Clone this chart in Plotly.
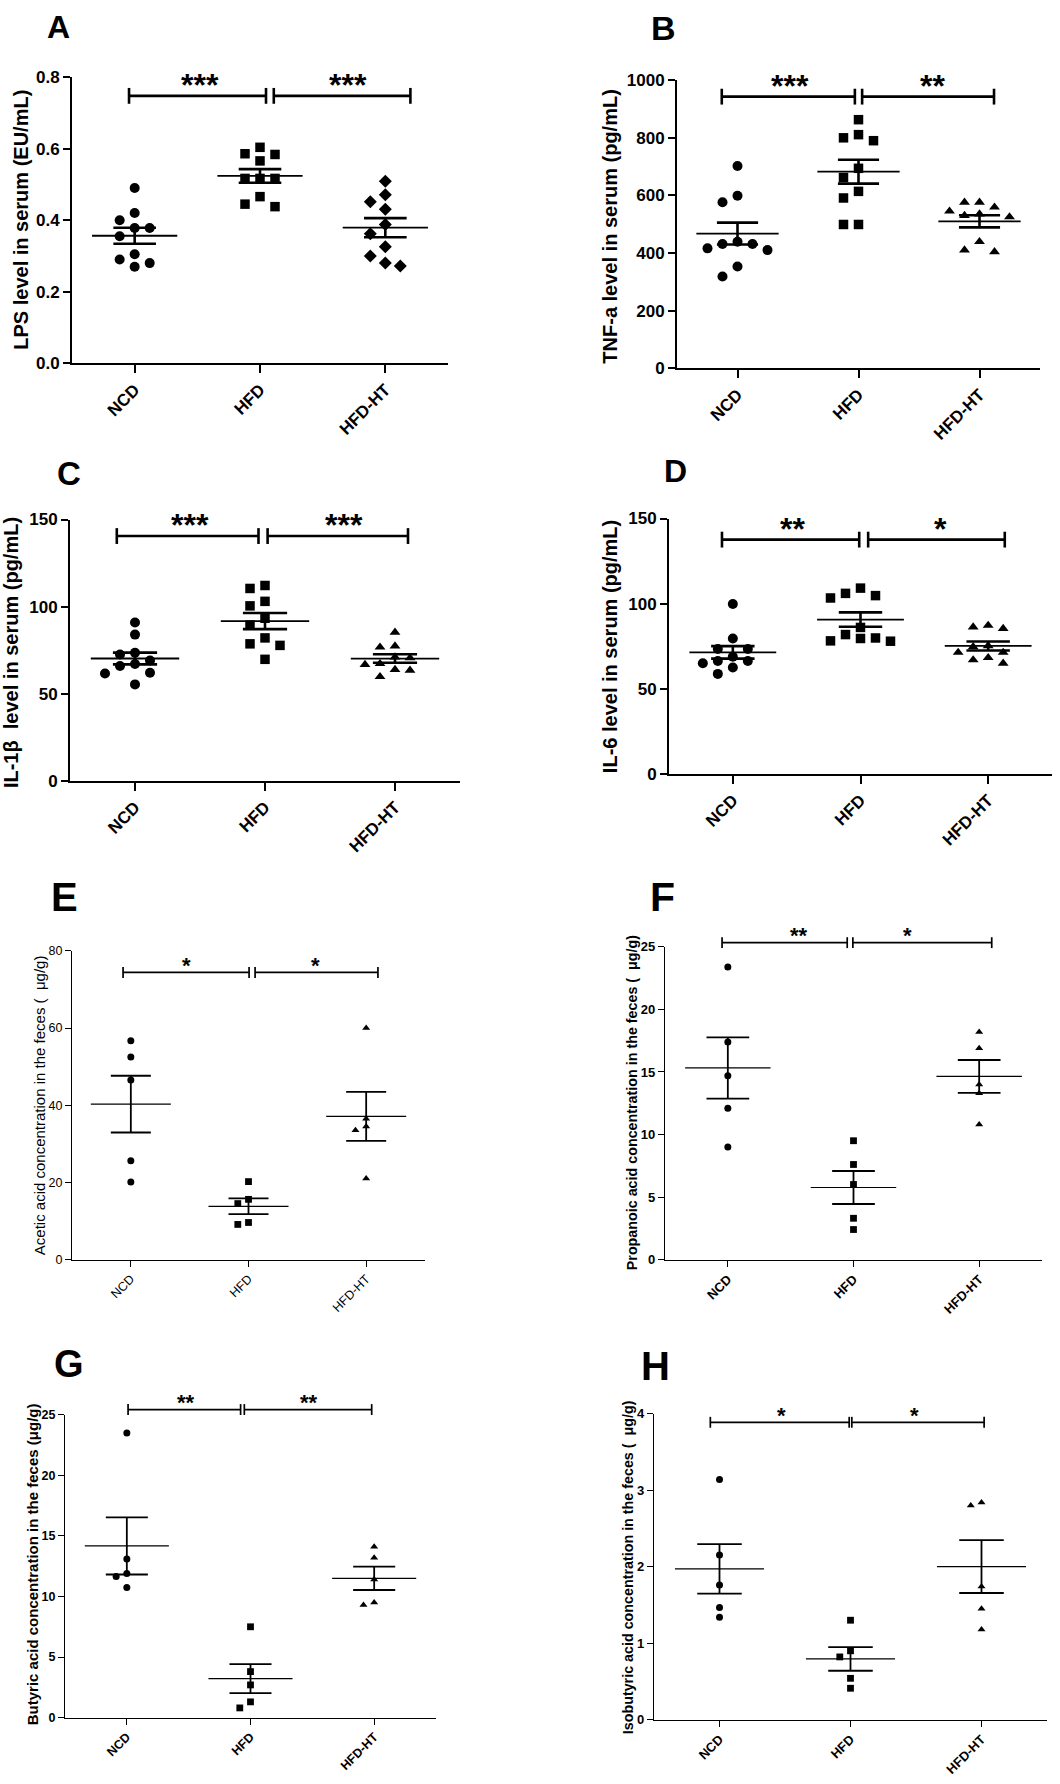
import math
import plotly.graph_objects as go

W, H = 1060, 1784
FONT = "Liberation Sans, Arial, Helvetica, sans-serif"

CATS = ["NCD", "HFD", "HFD-HT"]

# ---- data ----
A_LPS_NCD = [0.49, 0.42, 0.40, 0.378, 0.378, 0.355, 0.305, 0.29, 0.28, 0.27]
A_LPS_HFD = [0.604, 0.586, 0.584, 0.566, 0.517, 0.517, 0.517, 0.466, 0.445, 0.438]
A_LPS_HT = [0.509, 0.471, 0.452, 0.431, 0.388, 0.362, 0.326, 0.300, 0.280, 0.272]

B_TNF_NCD = [702, 599, 576, 439, 431, 431, 416, 410, 353, 318]
B_TNF_HFD = [863, 811, 800, 790, 694, 662, 614, 591, 499, 499]
B_TNF_HT = [576, 576, 559, 545, 535, 530, 525, 439, 410, 404]

C_IL1B_NCD = [90.9, 83.9, 73.5, 72.5, 69, 67, 65.9, 62.0, 61.6, 55.3]
C_IL1B_HFD = [112.1, 110.4, 103.0, 100.4, 93.3, 89.4, 82.0, 78.6, 77.7, 69.7]
C_IL1B_HT = [85.2, 77.3, 76.7, 71, 70.5, 67.2, 66.7, 63.8, 63.4, 59.7]

D_IL6_NCD = [99.8, 79.5, 73.3, 73.3, 68.8, 66.3, 66.3, 64.9, 62.4, 58.7]
D_IL6_HFD = [109.1, 106.0, 104.7, 103.3, 86, 81.8, 79.8, 79.5, 78.1, 77.9]
D_IL6_HT = [87.2, 86.2, 85.3, 75.2, 74.6, 71.3, 71.3, 68.2, 66.9, 64.9]

E_ACE_NCD = [56.7, 52.5, 46.5, 25.6, 20.1]
E_ACE_HFD = [20.2, 15.6, 14.5, 9.6, 9.1]
E_ACE_HT = [60.0, 36.5, 34.5, 33.5, 21.0]

F_PRO_NCD = [23.4, 17.4, 14.7, 12.1, 9.0]
F_PRO_HFD = [9.5, 7.6, 6.0, 3.3, 2.4]
F_PRO_HT = [18.2, 16.9, 14.0, 13.3, 10.8]

G_BUT_NCD = [23.5, 13.1, 11.9, 11.65, 10.75]
G_BUT_HFD = [7.5, 3.8, 2.7, 1.3, 0.8]
G_BUT_HT = [14.1, 13.2, 11.4, 9.5, 9.3]

H_ISO_NCD = [3.14, 2.155, 1.76, 1.465, 1.34]
H_ISO_HFD = [1.30, 0.90, 0.82, 0.54, 0.41]
H_ISO_HT = [2.84, 2.80, 1.74, 1.45, 1.18]

Y_TITLES = [
    "LPS level in serum (EU/mL)",
    "TNF-a level in serum (pg/mL)",
    "IL-1\u03b2\u00a0 level in serum (pg/mL)",
    "IL-6 level in serum (pg/mL)",
    "Acetic acid concentration in the feces (\u00a0 \u03bcg/g)",
    "Propanoic acid concentration in the feces (\u00a0 \u03bcg/g)",
    "Butyric acid concentration in the feces (\u03bcg/g)",
    "Isobutyric acid concentration in the feces (\u00a0 \u03bcg/g)",
]
STARS = [("***", "***"), ("***", "**"), ("***", "***"), ("**", "*"),
         ("*", "*"), ("**", "*"), ("**", "**"), ("*", "*")]

# ---- layout of the panels (pixel boxes, ranges, annotation placement) ----
panels = [
    dict(letter="A", groups=[A_LPS_NCD, A_LPS_HFD, A_LPS_HT], sym=["circle", "square", "diamond"],
         box=(72, 448, 69, 358), ymax=0.8, dtick=0.2, fmt=".1f", big=True, bold=True, fs=17, tfs=20,
         lpos=(58, 18, 32), tpos=(21, 213),
         br_y=0.748, br=[(-0.045, 1.048), (1.11, 2.20)], st_x=(0.52, 1.70)),
    dict(letter="B", groups=[B_TNF_NCD, B_TNF_HFD, B_TNF_HT], sym=["circle", "square", "triangle-up"],
         box=(677, 1040, 72, 363), ymax=1000, dtick=200, fmt="", big=True, bold=True, fs=17, tfs=20,
         lpos=(663, 19, 34), tpos=(610, 220),
         br_y=943, br=[(-0.13, 0.97), (1.03, 2.12)], st_x=(0.43, 1.61)),
    dict(letter="C", groups=[C_IL1B_NCD, C_IL1B_HFD, C_IL1B_HT], sym=["circle", "square", "triangle-up"],
         box=(70, 460, 516, 780), ymax=150, dtick=50, fmt="", big=True, bold=True, fs=17, tfs=20,
         lpos=(69, 470, 33), tpos=(11, 651),
         br_y=140.5, br=[(-0.14, 0.95), (1.02, 2.10)], st_x=(0.42, 1.61)),
    dict(letter="D", groups=[D_IL6_NCD, D_IL6_HFD, D_IL6_HT], sym=["circle", "square", "triangle-up"],
         box=(669, 1052, 515, 773), ymax=150, dtick=50, fmt="", big=True, bold=True, fs=17, tfs=20,
         lpos=(675, 467, 32), tpos=(610, 645),
         br_y=137.6, br=[(-0.085, 0.99), (1.06, 2.13)], st_x=(0.47, 1.63)),
    dict(letter="E", groups=[E_ACE_NCD, E_ACE_HFD, E_ACE_HT], sym=["circle", "square", "triangle-up"],
         box=(72, 425, 952, 1264), ymax=80, dtick=20, fmt="", big=False, bold=False, fs=12.5, tfs=15,
         lpos=(64, 898, 40), tpos=(39, 1108),
         br_y=74.4, br=[(-0.066, 1.005), (1.056, 2.10)], st_x=(0.47, 1.57)),
    dict(letter="F", groups=[F_PRO_NCD, F_PRO_HFD, F_PRO_HT], sym=["circle", "square", "triangle-up"],
         box=(665, 1042, 948, 1264), ymax=25, dtick=5, fmt="", big=False, bold=True, fs=13, tfs=14.3,
         lpos=(662, 898, 41), tpos=(632, 1106),
         br_y=25.34, br=[(-0.046, 0.95), (0.995, 2.10)], st_x=(0.565, 1.43)),
    dict(letter="G", groups=[G_BUT_NCD, G_BUT_HFD, G_BUT_HT], sym=["circle", "square", "triangle-up"],
         box=(65, 436, 1421, 1727), ymax=25, dtick=5, fmt="", big=False, bold=True, fs=12.5, tfs=15,
         lpos=(69, 1370, 38), tpos=(32, 1572),
         br_y=25.44, br=[(0.01, 0.92), (0.95, 1.98)], st_x=(0.48, 1.47)),
    dict(letter="H", groups=[H_ISO_NCD, H_ISO_HFD, H_ISO_HT], sym=["circle", "square", "triangle-up"],
         box=(654, 1047, 1420, 1729), ymax=4, dtick=1, fmt="", big=False, bold=True, fs=13, tfs=14.3,
         lpos=(655, 1372, 40), tpos=(628, 1575),
         br_y=3.89, br=[(-0.07, 0.99), (1.01, 2.02)], st_x=(0.47, 1.49)),
]


def swarm_offsets(vals, ppu, diam, step):
    idx = sorted(range(len(vals)), key=lambda i: -vals[i])
    placed = []
    out = [0.0] * len(vals)
    for i in idx:
        chosen = 0
        for k in (0, -1, 1, -2, 2, -3, 3):
            if all(kk != k or abs(vals[i] - vals[j]) * ppu >= diam for j, kk in placed):
                chosen = k
                break
        placed.append((i, chosen))
        out[i] = chosen * step
    return out


def mean_sem(vals):
    n = len(vals)
    m = sum(vals) / n
    sd = math.sqrt(sum((v - m) ** 2 for v in vals) / (n - 1))
    return m, sd / math.sqrt(n)


fig = go.Figure()
annotations = []
shapes = []
layout = {}

for n, p in enumerate(panels, start=1):
    xl, xr, yt, yb = p["box"]
    big = p["big"]
    weight = "bold" if p["bold"] else "normal"
    fs = p["fs"]
    ymax = p["ymax"]
    ppu = (yb - yt) / ymax
    cat_px = (xr - xl) / 3.0
    xa, ya = ("x%d" % n if n > 1 else "x"), ("y%d" % n if n > 1 else "y")

    axis_lw = 2 if big else 1.3
    layout["xaxis%d" % n if n > 1 else "xaxis"] = dict(
        domain=[xl / W, xr / W], range=[-0.5, 2.5], anchor=ya,
        tickvals=[0, 1, 2], ticktext=CATS, tickangle=-45,
        showline=True, linecolor="black", linewidth=axis_lw,
        ticks="outside", ticklen=8 if big else 6, tickwidth=axis_lw, tickcolor="black",
        showgrid=False, zeroline=False,
        tickfont=dict(family=FONT, size=fs, color="black", weight=weight),
    )
    layout["yaxis%d" % n if n > 1 else "yaxis"] = dict(
        domain=[1 - yb / H, 1 - yt / H], range=[0, ymax], anchor=xa,
        tick0=0, dtick=p["dtick"], tickformat=p["fmt"],
        showline=True, linecolor="black", linewidth=axis_lw,
        ticks="outside", ticklen=7 if big else 6, tickwidth=axis_lw, tickcolor="black",
        showgrid=False, zeroline=False,
        tickfont=dict(family=FONT, size=fs, color="black", weight=weight),
    )

    msize = {"circle": 10, "square": 9.5, "diamond": 10, "triangle-up": 9.5} if big else \
            {"circle": 7, "square": 6.8, "triangle-up": 7}
    step_px = 15 if big else 10.7
    diam = 11 if big else 7.5
    mean_lw = 1.8 if big else 1.2
    sem_lw = 2.6 if big else 1.8

    mx, my, sx, sy = [], [], [], []
    for i, (vals, sym) in enumerate(zip(p["groups"], p["sym"])):
        offs = swarm_offsets(vals, ppu, diam, step_px / cat_px)
        fig.add_trace(go.Scatter(
            x=[i + o for o in offs], y=vals, mode="markers", xaxis=xa, yaxis=ya,
            marker=dict(symbol=sym, size=msize[sym], color="black", line=dict(width=0)),
            cliponaxis=False, showlegend=False, hoverinfo="y"))
        m, s = mean_sem(vals)
        mx += [i - 0.34, i + 0.34, None]
        my += [m, m, None]
        sx += [i, i, None, i - 0.17, i + 0.17, None, i - 0.17, i + 0.17, None]
        sy += [m - s, m + s, None, m + s, m + s, None, m - s, m - s, None]
    fig.add_trace(go.Scatter(x=mx, y=my, mode="lines", xaxis=xa, yaxis=ya,
                             line=dict(color="black", width=mean_lw), showlegend=False, hoverinfo="skip"))
    fig.add_trace(go.Scatter(x=sx, y=sy, mode="lines", xaxis=xa, yaxis=ya,
                             line=dict(color="black", width=sem_lw), showlegend=False, hoverinfo="skip"))

    def bx(x):
        return xl + cat_px * (x + 0.5)

    def by(v):
        return yb - ppu * v

    # significance brackets
    br_lw = 2.6 if big else 1.7
    th = 8 if big else 5.5
    ypx = by(p["br_y"])
    for (x0, x1) in p["br"]:
        shapes.append(dict(type="line", xref="paper", yref="paper",
                           x0=bx(x0) / W, x1=bx(x1) / W, y0=1 - ypx / H, y1=1 - ypx / H,
                           line=dict(color="black", width=br_lw)))
        for xe in (x0, x1):
            shapes.append(dict(type="line", xref="paper", yref="paper",
                               x0=bx(xe) / W, x1=bx(xe) / W, y0=1 - (ypx - th) / H, y1=1 - (ypx + th) / H,
                               line=dict(color="black", width=br_lw)))
    sfs = 32 if big else 22
    soff = 18 if big else 12
    for txt, sxv in zip(STARS[n - 1], p["st_x"]):
        annotations.append(dict(
            text=txt, xref="paper", yref="paper", x=bx(sxv) / W,
            y=1 - (ypx - soff + 0.22 * sfs) / H, xanchor="center", yanchor="middle",
            showarrow=False, font=dict(family=FONT, size=sfs, color="black", weight="bold")))

    # panel letter
    lx, ly, lfs = p["lpos"]
    annotations.append(dict(text=p["letter"], xref="paper", yref="paper", x=lx / W,
                            y=1 - ly / H, xanchor="center", yanchor="middle",
                            showarrow=False, font=dict(family=FONT, size=lfs, color="black", weight="bold")))
    # y title
    tx, ty = p["tpos"]
    annotations.append(dict(text=Y_TITLES[n - 1], xref="paper", yref="paper", x=tx / W, y=1 - ty / H,
                            xanchor="center", yanchor="middle", textangle=-90, showarrow=False,
                            font=dict(family=FONT, size=p["tfs"], color="black", weight=weight)))

fig.update_layout(
    width=W, height=H, autosize=False,
    margin=dict(l=0, r=0, t=0, b=0),
    paper_bgcolor="white", plot_bgcolor="white",
    showlegend=False, annotations=annotations, shapes=shapes,
    **layout,
)

fig.write_html("out.html")
